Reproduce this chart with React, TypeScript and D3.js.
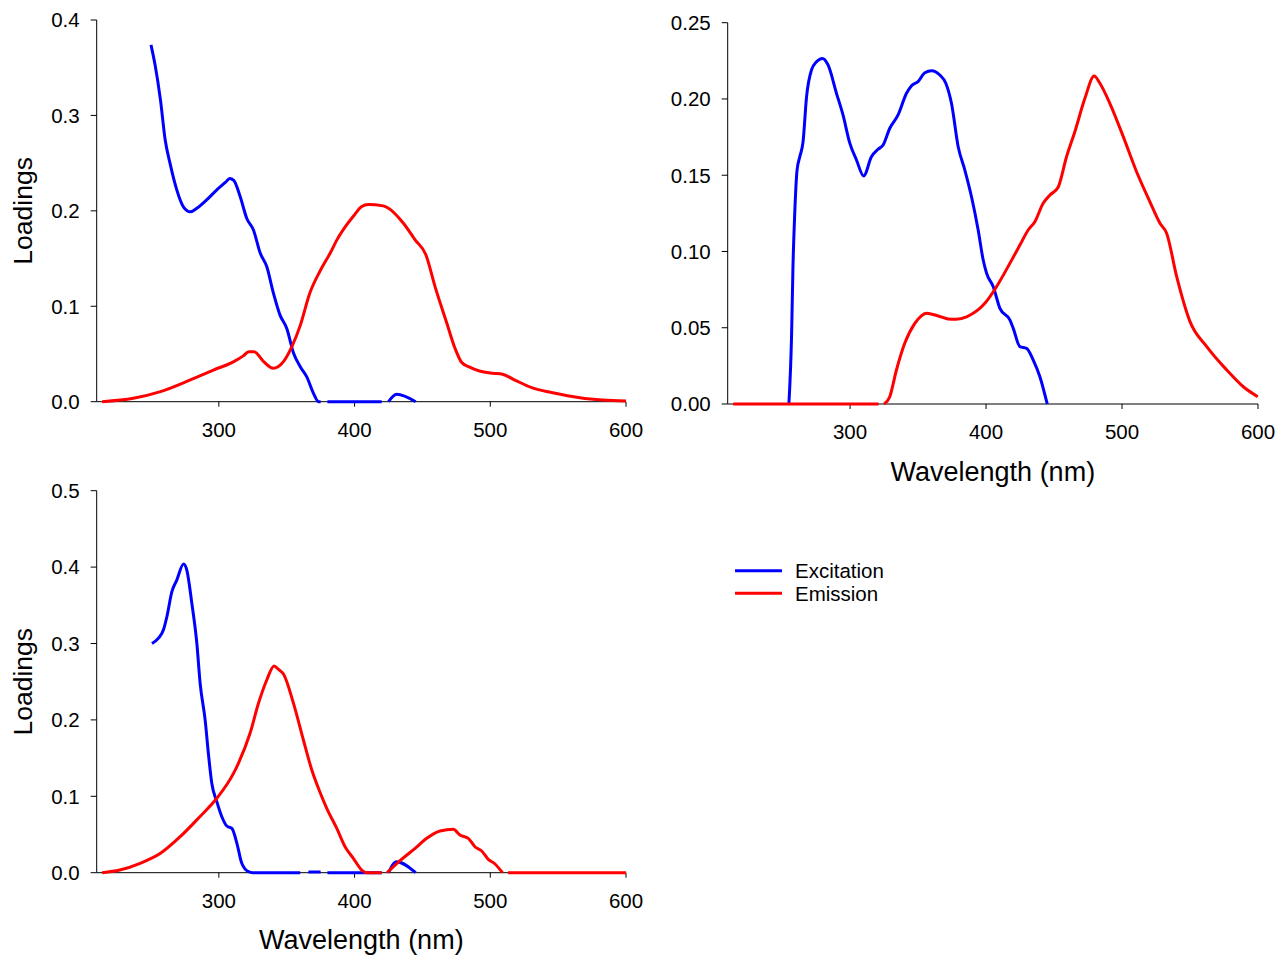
import React from 'react';
import * as d3 from 'd3';

type Pt = [number, number] | null;

// ---- tick values ----
const xTicks = [300, 400, 500, 600];
const yTicks1 = [0, 0.1, 0.2, 0.3, 0.4];
const yTicks2 = [0, 0.05, 0.1, 0.15, 0.2, 0.25];
const yTicks3 = [0, 0.1, 0.2, 0.3, 0.4, 0.5];
const wlDomain = [210, 600];

const legendLabels = ['Excitation', 'Emission'];
const xTitle = 'Wavelength (nm)';
const yTitle = 'Loadings';

// ---- component 1 ----
const ex1: Pt[] = [
  [250, 0.374], [253, 0.353], [257, 0.316], [260.5, 0.274], [264, 0.25], [269, 0.222],
  [274, 0.204], [279, 0.199], [284, 0.203], [291, 0.2115], [298.5, 0.222], [305, 0.23],
  [308, 0.234], [311, 0.232], [315.7, 0.215], [320.6, 0.192], [325.5, 0.18], [330.4, 0.156],
  [335.3, 0.1416], [340.2, 0.1137], [345, 0.091], [350, 0.077], [355, 0.051], [360, 0.0367],
  [364.8, 0.026], [369.7, 0.0088], [373.5, 0], [375, 0], null, [380, 0], [420, 0], null,
  [425, 0], [431, 0.0078], [445, 0],
];
const em1: Pt[] = [
  [214, 0], [237, 0.0036], [257, 0.0105], [276, 0.021], [296, 0.0332], [311, 0.042],
  [318, 0.048], [322, 0.0524], [326, 0.0524], [333, 0.042], [340, 0.035], [347.6, 0.042],
  [353.8, 0.0577], [360, 0.08], [367, 0.1137], [374.6, 0.137], [382, 0.1556], [387, 0.1696],
  [394, 0.185], [400, 0.196], [405.3, 0.2045], [410, 0.2066], [421, 0.2052], [425, 0.2028],
  [436, 0.187], [444.6, 0.1696], [452.6, 0.1538], [459.3, 0.1206], [468, 0.0822], [474, 0.056],
  [479, 0.041], [484, 0.0367], [492, 0.0322], [502, 0.0298], [509, 0.0287], [517, 0.0235],
  [530.5, 0.0147], [546, 0.0094], [566, 0.0042], [583, 0.0018], [600, 0.0007],
];

// ---- component 2 ----
const ex2: Pt[] = [
  [255, 0], [257, 0.046], [258, 0.09], [259.3, 0.125], [261, 0.1534], [263, 0.162],
  [265.4, 0.1718], [268, 0.2015], [271.6, 0.219], [275.3, 0.2244], [279.7, 0.2266],
  [283.8, 0.2223], [290, 0.2037], [294.8, 0.1895], [299.8, 0.171], [304.7, 0.16], [310, 0.1495],
  [315.7, 0.1621], [320.6, 0.167], [324.3, 0.1698], [329.2, 0.1808], [335.3, 0.1895],
  [341.5, 0.2037], [345.2, 0.2087], [350, 0.2114], [355, 0.2172], [360, 0.2185], [366, 0.2157],
  [370.4, 0.2103], [374.6, 0.197], [379.5, 0.1687], [384.4, 0.1534], [389.3, 0.1359],
  [394.2, 0.1141], [397.9, 0.0944], [400.4, 0.0857], [405.3, 0.0769], [410.2, 0.0627],
  [417.6, 0.055], [420, 0.0496], [424.9, 0.0376], [429.8, 0.0365], [434.7, 0.0288],
  [439.6, 0.0179], [445, 0],
];
const em2: Pt[] = [
  [214, 0], [321, 0], null, [325, 0], [329.2, 0.0048], [334.1, 0.0223], [340.2, 0.0398],
  [347.6, 0.0529], [352, 0.0575], [356.2, 0.0595], [364.8, 0.0577], [372, 0.0558], [378, 0.0555],
  [385.6, 0.0572], [390.5, 0.0595], [395.4, 0.0627], [399.1, 0.066], [407.7, 0.0769],
  [417.5, 0.0922], [424.9, 0.1042], [431, 0.1141], [435.9, 0.1195], [442, 0.1316], [447, 0.137],
  [453, 0.1421], [459.2, 0.1621], [465.3, 0.1785], [472.7, 0.2004], [479.5, 0.215],
  [483.7, 0.2103], [491.1, 0.197], [500.9, 0.1753], [510.7, 0.1523], [520.5, 0.1326],
  [527.9, 0.1185], [532.8, 0.112], [540.2, 0.0835], [550, 0.054], [562.3, 0.0376], [577, 0.0223],
  [589.2, 0.0113], [599.8, 0.0048],
];

// ---- component 3 ----
const ex3: Pt[] = [
  [250.7, 0.3], [255.5, 0.307], [259.2, 0.318], [261.7, 0.335], [265.4, 0.368], [269, 0.383],
  [274, 0.404], [276.4, 0.396], [280.1, 0.3526], [283.8, 0.3], [286.2, 0.248], [289.9, 0.2],
  [292.3, 0.156], [294.8, 0.117], [298.5, 0.093], [302.2, 0.0733], [305.9, 0.0611],
  [309.6, 0.058], [313.3, 0.0385], [316.9, 0.0123], [321.8, 0.0013], [325, 0], [360, 0], null,
  [366, 0.001], [375, 0.001], null, [380, 0], [420, 0], null, [425, 0], [431, 0.0144], [445, 0],
];
const em3: Pt[] = [
  [214, 0], [227, 0.0035], [242, 0.0123], [257, 0.0254], [271.5, 0.0471], [286, 0.0733],
  [298.5, 0.0974], [310.8, 0.13], [314.4, 0.1432], [323, 0.1825], [329.2, 0.2217],
  [335.3, 0.2522], [340.7, 0.2705], [344, 0.266], [347.6, 0.26], [355, 0.2217], [362.3, 0.1737],
  [368.5, 0.1344], [374.6, 0.105], [379.5, 0.0843], [386.9, 0.058], [393, 0.034], [399.1, 0.0188],
  [405.3, 0.0035], [409, 0], [420, 0], null, [424, 0], [433.5, 0.0157], [444.6, 0.0319],
  [453.2, 0.045], [463, 0.0546], [472.8, 0.0568], [477.7, 0.0493], [483.8, 0.045],
  [488.7, 0.034], [493.7, 0.0284], [498.5, 0.0175], [503.5, 0.0114], [509, 0], null, [513, 0],
  [600, 0],
];

const FONT = '"Liberation Sans", Arial, Helvetica, sans-serif';
const BLUE = '#0000ff';
const RED = '#ff0000';

interface PanelCfg {
  xr: [number, number];
  yr: [number, number];
  yd: [number, number];
  yt: number[];
  fmt: string;
  ylab: boolean;
  xlab: boolean;
  ex: Pt[];
  em: Pt[];
}

const panels: PanelCfg[] = [
  { xr: [96.7, 626], yr: [401.7, 20], yd: [0, 0.4], yt: yTicks1, fmt: '.1f', ylab: true, xlab: false, ex: ex1, em: em1 },
  { xr: [727.7, 1258], yr: [404, 22.7], yd: [0, 0.25], yt: yTicks2, fmt: '.2f', ylab: false, xlab: true, ex: ex2, em: em2 },
  { xr: [96.7, 626], yr: [872.7, 490.7], yd: [0, 0.5], yt: yTicks3, fmt: '.1f', ylab: true, xlab: true, ex: ex3, em: em3 },
];

function Panel({ p }: { p: PanelCfg }) {
  const x = d3.scaleLinear().domain(wlDomain).range(p.xr);
  const y = d3.scaleLinear().domain(p.yd).range(p.yr);
  const line = d3
    .line<Pt>()
    .defined((d) => d !== null)
    .x((d) => x((d as [number, number])[0]))
    .y((d) => y((d as [number, number])[1]))
    .curve(d3.curveMonotoneX);
  const f = d3.format(p.fmt);
  const x0 = p.xr[0];
  const y0 = y(0);
  const yTop = y(p.yd[1]);
  const xEnd = x(wlDomain[1]);
  return (
    <g>
      <line x1={x0} x2={x0} y1={yTop} y2={y0} stroke="#000" strokeWidth={1} />
      <line x1={x0} x2={xEnd} y1={y0} y2={y0} stroke="#000" strokeWidth={1} />
      {p.yt.map((t) => (
        <g key={'y' + t}>
          <line x1={x0 - 6} x2={x0} y1={y(t)} y2={y(t)} stroke="#000" strokeWidth={1} />
          <text x={x0 - 17} y={y(t) + 7.3} textAnchor="end" fontSize={20.5} fontFamily={FONT} fill="#000">
            {f(t)}
          </text>
        </g>
      ))}
      {xTicks.map((t) => (
        <g key={'x' + t}>
          <line x1={x(t)} x2={x(t)} y1={y0} y2={y0 + 5} stroke="#000" strokeWidth={1} />
          <text x={x(t)} y={y0 + 35} textAnchor="middle" fontSize={20.5} fontFamily={FONT} fill="#000">
            {t}
          </text>
        </g>
      ))}
      {p.ylab && (
        <text
          transform={`translate(32,${(yTop + y0) / 2}) rotate(-90)`}
          textAnchor="middle"
          fontSize={26.5}
          fontFamily={FONT}
          fill="#000"
        >
          {yTitle}
        </text>
      )}
      {p.xlab && (
        <text x={(p.xr[0] + p.xr[1]) / 2} y={y0 + 76.5} textAnchor="middle" fontSize={27} fontFamily={FONT} fill="#000">
          {xTitle}
        </text>
      )}
      <path d={line(p.ex) || ''} fill="none" stroke={BLUE} strokeWidth={3} strokeLinejoin="round" />
      <path d={line(p.em) || ''} fill="none" stroke={RED} strokeWidth={3} strokeLinejoin="round" />
    </g>
  );
}

export default function App() {
  const legendColors = [BLUE, RED];
  const legendY = [570.7, 593.3];
  return (
    <svg
      width={1281}
      height={957}
      style={{ position: 'absolute', left: 0, top: 0, background: '#fff' }}
    >
      <rect x={0} y={0} width={1281} height={957} fill="#fff" />
      {panels.map((p, i) => (
        <Panel key={i} p={p} />
      ))}
      {legendLabels.map((l, i) => (
        <g key={l}>
          <line x1={735} x2={782} y1={legendY[i]} y2={legendY[i]} stroke={legendColors[i]} strokeWidth={3} />
          <text x={795} y={legendY[i] + 7.2} fontSize={20.5} fontFamily={FONT} fill="#000">
            {l}
          </text>
        </g>
      ))}
    </svg>
  );
}
